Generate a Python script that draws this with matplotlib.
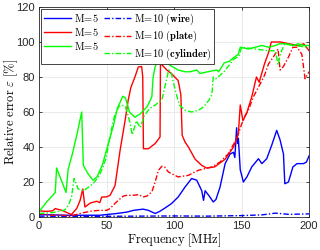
import matplotlib
matplotlib.use('Agg')
import matplotlib.pyplot as plt

plt.rcParams['mathtext.fontset'] = 'cm'
plt.rcParams['font.family'] = ['Liberation Sans', 'DejaVu Sans']

# --- wire ---
f_wire5 = [0, 10, 20, 30, 45, 57.5, 65, 70, 77, 81, 86, 89.6, 93, 98, 103, 108, 113, 116.8,
           120.5, 121.8, 123, 126, 129, 131, 134, 137.8, 141.5, 144, 145, 146.3, 147, 147.6,
           149, 151.3, 154, 157.5, 162.5, 165, 168.6, 172.3, 176, 178.5, 181, 182, 184.7,
           188, 191, 195.8, 198, 200]
v_wire5 = [1.4, 1.2, 1, 1, 1, 2, 2.8, 3.8, 4.5, 3.8, 2, 3.3, 5, 7.6, 11.4, 17, 22, 21,
           15, 9.5, 15, 12, 8.6, 10, 17, 30.5, 36, 37, 34, 51, 42, 45,
           27, 20, 23, 28.6, 33.3, 30.5, 33.3, 41, 49.5, 44, 36, 19, 20,
           28.6, 30.5, 30.5, 31.4, 35]
f_wire10 = [0, 25, 50, 75, 100, 125, 150, 165, 175, 185, 200]
v_wire10 = [0.5, 0.3, 0.4, 0.5, 0.6, 0.5, 0.8, 1.2, 2.2, 1.5, 1.8]

# --- plate ---
f_plate5 = [0, 5, 10, 12, 17, 24, 28, 30.4, 32.4, 34, 38, 42.7, 45, 46.4, 50, 52.6, 56.3,
            60, 63.7, 66, 68, 71, 73.5, 76, 76.8, 77.3, 81, 86, 89.6, 90, 90.5, 91, 94.6,
            98, 103, 105, 106, 108, 110.6, 115.6, 120.5, 124, 130, 137.8, 144, 147.6, 149,
            151, 154, 157.5, 161, 163, 167, 170, 172, 179, 185, 192, 196, 200]
v_plate5 = [3.5, 3.2, 3.5, 4.8, 3.8, 1.4, 5, 9.5, 16, 5.7, 8, 9, 8.2, 11.4, 11.5, 12.4, 18,
            38, 55, 66.7, 74, 80, 85.7, 86, 80, 39, 39, 42, 45.7, 98, 99, 87, 84,
            82, 78, 70, 46.7, 43, 40, 33, 29.5, 28, 28.6, 33, 40, 47.6, 64,
            55, 60, 68.6, 80, 77, 87.6, 94, 100, 100, 99, 98, 99, 95]
f_plate10 = [0, 8, 15, 23, 28, 33, 40, 45, 50, 52.6, 56, 58.7, 62.5, 65, 70, 74, 77, 80,
             83.5, 86, 88.4, 91, 93, 95.8, 98, 103, 110.6, 118, 128, 134, 140, 146.4, 150,
             152, 155, 158.7, 163.7, 167, 170, 173.5, 177, 178.5, 181, 184.7, 188, 191,
             194.6, 197, 200]
v_plate10 = [2, 1, 1.2, 0.5, 1.5, 2.5, 3.5, 3.8, 3.8, 4.8, 7.6, 9.5, 12, 12.4, 12.4, 12.8, 11.4, 12,
             14.3, 20, 26.7, 29, 28.6, 25.7, 24.8, 22.9, 23.8, 26.7, 28.6, 31.4, 36, 44.8, 53,
             57, 61, 68.6, 76, 81, 87.6, 91.4, 96, 84, 86, 91.4, 97, 97,
             93, 79, 83]

# --- cylinder ---
f_cyl5 = [0, 5, 12, 13, 17, 20, 21.5, 25, 28, 31.6, 32.8, 36, 40, 43, 47, 50.6, 55, 58, 62,
          64, 67, 71, 75, 80, 83.5, 84.5, 86, 88, 89.5, 90.5, 93, 97, 103, 108, 112, 116.8,
          119, 125, 131.6, 133, 136, 137, 141, 144, 147.6, 149, 155, 160, 165, 170, 175,
          178, 182, 188, 192, 196, 200]
v_cyl5 = [3, 8, 14, 28, 20, 14, 27, 37, 47, 60, 29.5, 25, 21, 23, 30, 40, 52, 62, 69,
          68, 60, 57, 59, 63, 68.6, 80, 86, 89, 96, 93, 89, 86.7, 84, 83, 83, 84,
          82, 83, 84, 83, 86.7, 88, 89, 91, 93, 97, 96, 97, 98, 97, 98,
          99, 99, 98, 99, 98, 98]
f_cyl10 = [0, 10, 19, 22, 24, 26, 29, 33, 40, 44, 46.4, 49.6, 53, 56, 59, 61, 64, 67, 69,
           71, 72, 75, 78, 82, 86, 91, 96, 98, 101, 104, 108, 113, 118, 122, 126, 128, 129,
           131, 134, 137, 140, 144, 148, 150, 160, 170, 175, 177, 179, 182, 190, 198, 200]
v_cyl10 = [2, 2.5, 4, 7, 11.4, 22, 16, 15, 19, 23, 26.7, 33.5, 48, 58, 63, 64, 63, 55, 47,
           52, 55, 51, 58, 62, 64, 67, 84, 82, 72, 64, 61, 60, 61, 63, 67, 70, 80,
           79, 81, 83, 86, 90, 92, 97, 96, 95, 95, 87, 94, 99, 98, 97, 97]

dashdot = (0, (4, 1.5, 1, 1.5))
lw = 1.0

fig = plt.figure(figsize=(3.2, 2.5), dpi=100)
ax = fig.add_axes([0.122, 0.132, 0.844, 0.84])

h_w5, = ax.plot(f_wire5, v_wire5, color='#0000ff', lw=lw)
h_w10, = ax.plot(f_wire10, v_wire10, color='#0000ff', lw=lw, ls=dashdot)
h_p5, = ax.plot(f_plate5, v_plate5, color='#ff0000', lw=lw)
h_p10, = ax.plot(f_plate10, v_plate10, color='#ff0000', lw=lw, ls=dashdot)
h_c5, = ax.plot(f_cyl5, v_cyl5, color='#00ff00', lw=lw)
h_c10, = ax.plot(f_cyl10, v_cyl10, color='#00ff00', lw=lw, ls=dashdot)

ax.set_xlim(0, 200)
ax.set_ylim(0, 120)
ax.set_xticks([0, 50, 100, 150, 200])
ax.set_yticks([0, 20, 40, 60, 80, 100, 120])
ax.grid(True, color='#e6e6e6', lw=0.6)
ax.set_axisbelow(True)
ax.tick_params(direction='in', length=2.5, width=0.6, colors='#262626',
               labelsize=8, top=True, right=True, pad=3)
for s in ax.spines.values():
    s.set_color('#262626')
    s.set_linewidth(0.6)

ax.set_xlabel(r'$\mathrm{Frequency\ [MHz]}$', fontsize=9)
ax.set_ylabel(r'$\mathrm{Relative\ error}\ \varepsilon\ \mathrm{[\%]}$', fontsize=9)
ax.xaxis.set_label_coords(0.5, -0.068)
ax.yaxis.set_label_coords(-0.072, 0.5)

m5 = r'$\mathrm{M\!=\!5}$'
leg = ax.legend([h_w5, h_p5, h_c5, h_w10, h_p10, h_c10],
                [m5, m5, m5,
                 r'$\mathrm{M\!=\!10}\ \mathbf{(wire)}$',
                 r'$\mathrm{M\!=\!10}\ \mathbf{(plate)}$',
                 r'$\mathrm{M\!=\!10}\ \mathbf{(cylinder)}$'],
                ncol=2, loc='upper left', fontsize=7.5, fancybox=False,
                edgecolor='#262626', framealpha=1, handlelength=2.6,
                columnspacing=0.5, handletextpad=0.3, labelspacing=0.2,
                borderpad=0.25, borderaxespad=0.2)
leg.get_frame().set_linewidth(0.6)

fig.savefig('out.png', dpi=100)
